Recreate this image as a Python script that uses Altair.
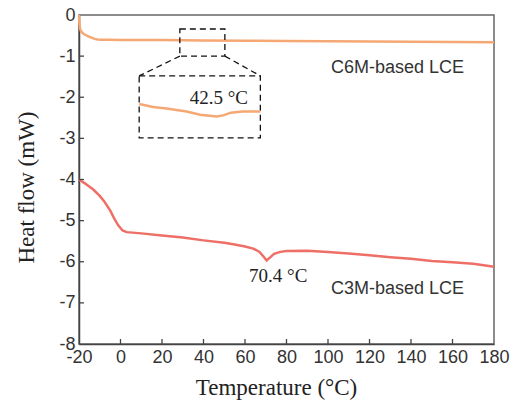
import altair as alt
import pandas as pd

# DSC heating traces
temp_c6m = [-20, -19.8, -19.5, -19, -18, -17, -15.5, -14, -12.5, -11, -9, -6, 0, 20, 40, 60, 80, 100, 120, 140, 160, 180]
flow_c6m = [0.0, -0.2, -0.33, -0.4, -0.45, -0.48, -0.52, -0.55, -0.58, -0.595, -0.6, -0.603, -0.605, -0.61, -0.618, -0.625, -0.632, -0.638, -0.644, -0.65, -0.656, -0.665]

temp_c3m = [-20, -17, -13, -10, -8, -5, -3, -1, 1, 3, 10, 20, 30, 40, 50, 55, 60, 64, 67, 69, 70.4, 72, 74, 77, 80, 90, 100, 110, 120, 130, 140, 150, 160, 170, 180]
flow_c3m = [-4.0, -4.1, -4.25, -4.4, -4.52, -4.75, -4.95, -5.12, -5.24, -5.28, -5.31, -5.36, -5.41, -5.48, -5.54, -5.58, -5.63, -5.68, -5.76, -5.88, -5.97, -5.9, -5.81, -5.76, -5.74, -5.73, -5.76, -5.8, -5.84, -5.89, -5.93, -5.98, -6.01, -6.05, -6.12]

# magnified C6M segment around the transition
inset_temp = [28.6, 31.1, 33.5, 37.1, 39.5, 42.5, 43.8, 45.0, 47.1, 50.3]
inset_flow = [-0.600, -0.607, -0.611, -0.618, -0.626, -0.630, -0.627, -0.621, -0.618, -0.618]

# zoom window on the trace and the enlarged frame it is drawn in
zoom_x = [28.6, 50.3]
zoom_y = [-0.34, -1.0]
frame_x = [9.0, 67.4]
frame_y = [-1.48, -2.99]
inset_y0 = -2.165
inset_gain = 10.0

x_ticks = [-20, 0, 20, 40, 60, 80, 100, 120, 140, 160, 180]
y_ticks = [0, -1, -2, -3, -4, -5, -6, -7, -8]

c6m_color = "#F6A874"
c3m_color = "#EE6F66"

W, H = 415, 329

xs = alt.Scale(domain=[-20, 180], nice=False, zero=False)
ys = alt.Scale(domain=[-8, 0], nice=False, zero=False)

c6m = pd.DataFrame({"t": temp_c6m, "q": flow_c6m})
c3m = pd.DataFrame({"t": temp_c3m, "q": flow_c3m})

sx = (frame_x[1] - frame_x[0]) / (zoom_x[1] - zoom_x[0])
inset = pd.DataFrame({
    "t": [frame_x[0] + (t - zoom_x[0]) * sx for t in inset_temp],
    "q": [inset_y0 + (q - inset_flow[0]) * inset_gain for q in inset_flow],
})

# plain hyphen for negative tick labels
plain_label = "'' + datum.value"

x_enc = alt.X("t:Q", scale=xs, title="Temperature (°C)",
              axis=alt.Axis(values=x_ticks, labelFlush=False, labelOverlap=False,
                            labelExpr=plain_label,
                            titleX=197, titleY=50, titleBaseline="alphabetic"))
y_enc = alt.Y("q:Q", scale=ys, title="Heat flow (mW)",
              axis=alt.Axis(values=y_ticks, labelOverlap=False, labelExpr=plain_label,
                            titleX=-53, titleY=172, titleBaseline="middle", titleAngle=-90))

line_c6m = alt.Chart(c6m).mark_line(color=c6m_color, strokeWidth=2.5).encode(x=x_enc, y=y_enc)
line_c3m = alt.Chart(c3m).mark_line(color=c3m_color, strokeWidth=2.5).encode(x="t:Q", y="q:Q")
line_inset = alt.Chart(inset).mark_line(color=c6m_color, strokeWidth=2.5).encode(x="t:Q", y="q:Q")

boxes = pd.DataFrame({
    "x1": [zoom_x[0], frame_x[0]], "x2": [zoom_x[1], frame_x[1]],
    "y1": [zoom_y[0], frame_y[0]], "y2": [zoom_y[1], frame_y[1]],
})
box_layer = alt.Chart(boxes).mark_rect(
    fillOpacity=0, stroke="#111", strokeWidth=1.3, strokeDash=[6, 4]
).encode(x="x1:Q", x2="x2:Q", y="y1:Q", y2="y2:Q")

links = pd.DataFrame({
    "x1": [zoom_x[0], zoom_x[1]], "x2": [frame_x[0], frame_x[1]],
    "y1": [zoom_y[1], zoom_y[1]], "y2": [frame_y[0], frame_y[0]],
})
link_layer = alt.Chart(links).mark_rule(
    color="#111", strokeWidth=1.3, strokeDash=[6, 4]
).encode(x="x1:Q", x2="x2:Q", y="y1:Q", y2="y2:Q")

# inward tick marks
xt = pd.DataFrame({"t": x_ticks[1:-1]})
xtick_layer = alt.Chart(xt).mark_rule(color="#444", strokeWidth=1.3).encode(
    x="t:Q", y=alt.value(H), y2=alt.value(H - 5))
yt = pd.DataFrame({"q": y_ticks[1:-1]})
ytick_layer = alt.Chart(yt).mark_rule(color="#444", strokeWidth=1.3).encode(
    y="q:Q", x=alt.value(0), x2=alt.value(5))

serif_labels = pd.DataFrame({"t": [47.4, 76.0], "q": [-2.02, -6.35], "s": ["42.5 °C", "70.4 °C"]})
serif_layer = alt.Chart(serif_labels).mark_text(
    font="Liberation Serif", fontSize=19, color="#222", baseline="middle", align="center"
).encode(x="t:Q", y="q:Q", text="s:N")

sans_labels = pd.DataFrame({"t": [133.5, 133.5], "q": [-1.28, -6.67], "s": ["C6M-based LCE", "C3M-based LCE"]})
sans_layer = alt.Chart(sans_labels).mark_text(
    font="Liberation Sans", fontSize=18, color="#333", baseline="middle", align="center"
).encode(x="t:Q", y="q:Q", text="s:N")

chart = alt.layer(
    line_c6m, line_c3m, box_layer, link_layer, line_inset,
    xtick_layer, ytick_layer, serif_layer, sans_layer
).properties(
    width=W, height=H,
    padding={"left": 79, "top": 15, "right": 23, "bottom": 58},
    autosize="none",
    background="white",
).configure_view(
    stroke="#666", strokeWidth=1.5
).configure_axis(
    grid=False, ticks=False, domain=True, domainColor="#444", domainWidth=1.5,
    labelFont="Liberation Sans", labelFontSize=18, labelColor="#333", labelPadding=4,
    titleFont="Liberation Serif", titleFontSize=23, titleFontWeight="normal", titleColor="#222",
)

chart.save("out.html", embed_options={"renderer": "svg", "actions": False})
